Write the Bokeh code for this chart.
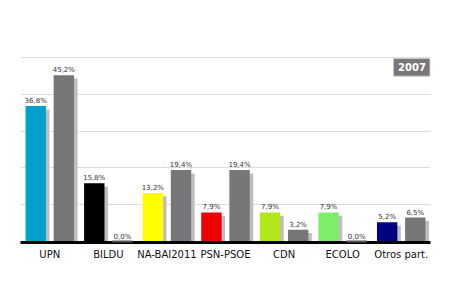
from bokeh.plotting import figure
from bokeh.models import ColumnDataSource, FactorRange, Range1d, FixedTicker
from bokeh.transform import dodge
from bokeh.core.properties import value
from bokeh.embed import file_html
from bokeh.resources import INLINE

categories = ["UPN", "BILDU", "NA-BAI2011", "PSN-PSOE", "CDN", "ECOLO", "Otros part."]
values_2011 = [36.8, 15.8, 13.2, 7.9, 7.9, 7.9, 5.2]
values_2007 = [45.2, 0.0, 19.4, 19.4, 3.2, 0.0, 6.5]
colors_2011 = ["#00a0cc", "#000000", "#ffff00", "#ee0000", "#b4e61c", "#80ec6c", "#000080"]
year_label = "2007"
grid_ticks = [10, 20, 30, 40, 50]

def fmt(v):
    return f"{v:.1f}".replace(".", ",") + "%"

PX = 3.68  # pixels per percentage point
shadow_drop = 3.3 / PX

src = ColumnDataSource(dict(
    cat=categories,
    v1=values_2011,
    v2=values_2007,
    c1=colors_2011,
    s1=[max(v - shadow_drop, 0) for v in values_2011],
    s2=[max(v - shadow_drop, 0) for v in values_2007],
    l1=[fmt(v) for v in values_2011],
    l2=[fmt(v) for v in values_2007],
))

zero_src = ColumnDataSource(dict(
    cat=[c for c, v in zip(categories, values_2007) if v == 0],
    y=[0 for v in values_2007 if v == 0],
))

p = figure(width=450, height=300, output_backend="svg", toolbar_location=None,
           x_range=FactorRange(*categories, range_padding=0),
           y_range=Range1d(-1 / PX, 241 / PX),
           min_border_left=20, min_border_right=20, min_border_top=0, min_border_bottom=58,
           outline_line_color=None)
p.background_fill_color = "white"
p.border_fill_color = "white"

p.xgrid.visible = False
p.ygrid.ticker = FixedTicker(ticks=grid_ticks)
p.ygrid.grid_line_color = "#dcdcdc"
p.ygrid.grid_line_width = 1
p.yaxis.visible = False

W = 0.348
OFF = 0.24
SH = 0.06

# shadows
p.vbar(x=dodge("cat", -OFF + SH, range=p.x_range), top="s1", bottom=0, width=W,
       source=src, fill_color="#bebebe", line_color=None)
p.vbar(x=dodge("cat", OFF + SH, range=p.x_range), top="s2", bottom=0, width=W,
       source=src, fill_color="#bebebe", line_color=None)
# bars
p.vbar(x=dodge("cat", -OFF, range=p.x_range), top="v1", bottom=0, width=W,
       source=src, fill_color="c1", line_color=None)
p.vbar(x=dodge("cat", OFF, range=p.x_range), top="v2", bottom=0, width=W,
       source=src, fill_color="#787678", line_color=None)

# value labels
for col, lab, off in (("v1", "l1", -OFF), ("v2", "l2", OFF)):
    p.text(x=dodge("cat", off, range=p.x_range), y=col, text=lab, source=src,
           text_align="center", text_baseline="alphabetic", y_offset=-5,
           text_font=value("DejaVu Sans"), text_font_size="7px", text_color="#333333")

# zero-value markers on the baseline
zr = p.rect(x=dodge("cat", OFF, range=p.x_range), y="y", width=W, height=2,
            height_units="screen", source=zero_src, fill_color="#555555", line_color=None)
zr.level = "overlay"

# year box
bx_left = 7 - 37 / 58.57
y_top = (241 - 58) / PX
y_bot = (241 - 75.7) / PX
p.quad(left=[bx_left], right=[7 - 0.5 / 58.57], top=[y_top], bottom=[y_bot],
       fill_color="#787878", line_color="#cccccc", line_width=1)
p.text(x=[(bx_left + 7) / 2], y=[(y_top + y_bot) / 2], text=[year_label],
       text_align="center", text_baseline="middle",
       text_font=value("DejaVu Sans"), text_font_size="10px", text_font_style="bold",
       text_color="white")

ax = p.xaxis[0]
ax.axis_line_color = "black"
ax.axis_line_width = 3
ax.major_tick_line_color = None
ax.minor_tick_line_color = None
ax.major_tick_out = 0
ax.major_tick_in = 0
ax.major_label_standoff = 6
ax.major_label_text_font = "DejaVu Sans"
ax.major_label_text_font_size = "10px"
ax.major_label_text_color = "#111111"

open("out.html", "w").write(file_html(p, INLINE))
